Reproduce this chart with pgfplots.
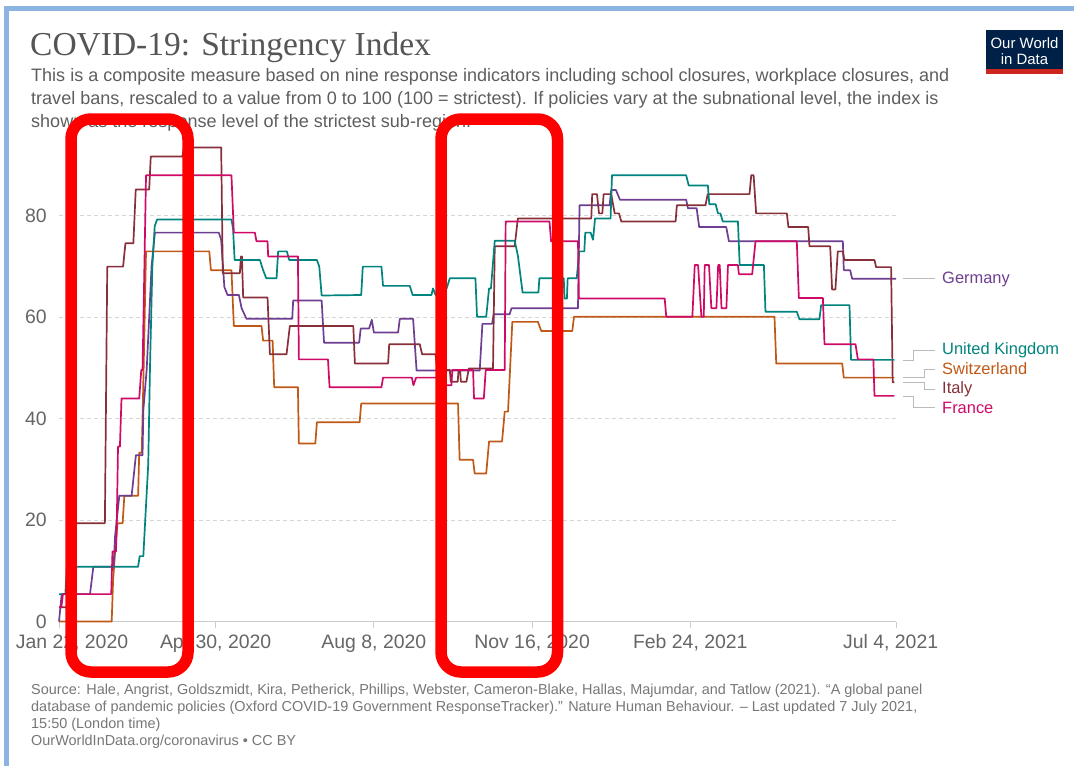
\documentclass[border=0pt]{standalone}
\usepackage{pgfplots}
\pgfplotsset{compat=1.18}
\usepackage{fontspec}
\setmainfont{Liberation Sans}
\newfontfamily\titlefont{Liberation Serif}
\definecolor{cGer}{HTML}{6D3E91}
\definecolor{cUK}{HTML}{00847E}
\definecolor{cSwi}{HTML}{C05917}
\definecolor{cIta}{HTML}{883039}
\definecolor{cFra}{HTML}{CF0A66}
\definecolor{cTitle}{HTML}{555555}
\definecolor{cSub}{HTML}{5E5E5E}
\definecolor{cTick}{HTML}{666666}
\definecolor{cFoot}{HTML}{777777}
\definecolor{cGrid}{HTML}{D6D6D6}
\definecolor{cAxis}{HTML}{CCCCCC}
\definecolor{cBorder}{HTML}{8DB3E2}
\definecolor{cLogo}{HTML}{002147}
\definecolor{cLogoRed}{HTML}{CE261E}
\definecolor{cConn}{HTML}{BBBBBB}
\begin{document}
\begin{tikzpicture}
\path[fill=white,use as bounding box] (0,0) rectangle (1074bp,-766bp);
% border
\fill[cBorder] (4bp,-6bp) rectangle (1074bp,-11bp);
\fill[cBorder] (4bp,-6bp) rectangle (9.3bp,-766bp);
% title
\node[anchor=base west,inner sep=0,font=\titlefont\fontsize{33.6}{40}\selectfont,text=cTitle] at (30bp,-55bp) {COVID-19: Stringency Index};
\begin{scope}[every node/.style={anchor=base west,inner sep=0,font=\fontsize{18.1}{21}\selectfont,text=cSub}]
\node at (31bp,-81bp) {This is a composite measure based on nine response indicators including school closures, workplace closures, and};
\node at (31bp,-104bp) {travel bans, rescaled to a value from 0 to 100 (100 = strictest). If policies vary at the subnational level, the index is};
\node at (31bp,-127bp) {shown as the response level of the strictest sub-region.};
\end{scope}
% logo
\fill[cLogo] (986bp,-30bp) rectangle (1063bp,-69bp);
\fill[cLogoRed] (986bp,-69bp) rectangle (1063bp,-74bp);
\node[text=white,font=\fontsize{15}{17}\selectfont,inner sep=0] at (1024.5bp,-43bp) {Our World};
\node[text=white,font=\fontsize{15}{17}\selectfont,inner sep=0] at (1024.5bp,-59bp) {in Data};
% footer
\begin{scope}[every node/.style={anchor=base west,inner sep=0,font=\fontsize{14.5}{17}\selectfont,text=cFoot}]
\node at (31bp,-694bp) {Source: Hale, Angrist, Goldszmidt, Kira, Petherick, Phillips, Webster, Cameron-Blake, Hallas, Majumdar, and Tatlow (2021). “A global panel};
\node at (31bp,-711bp) {database of pandemic policies (Oxford COVID-19 Government ResponseTracker).” Nature Human Behaviour. – Last updated 7 July 2021,};
\node at (31bp,-728bp) {15:50 (London time)};
\node at (31bp,-745bp) {OurWorldInData.org/coronavirus • CC BY};
\end{scope}
\begin{axis}[
  at={(59bp,-621.5bp)}, anchor=south west,
  scale only axis, width=837bp, height=481.65bp,
  xmin=0, xmax=529, ymin=0, ymax=95,
  axis x line*=bottom,
  x axis line style={draw=cAxis,line width=1.5bp},
  y axis line style={draw=none},
  xtick={0,99,199,299,399,529}, xticklabels={},
  xtick style={draw=cAxis,line width=1bp},
  major tick length=6bp, tick align=outside,
  ytick={0,20,40,60,80},
  ytick style={draw=none},
  ymajorgrids,
  grid style={draw=cGrid,line width=0.9bp,dash pattern=on 4bp off 3bp},
  /pgf/number format/assume math mode=true,
  yticklabel style={font=\fontsize{19.5}{22}\selectfont,text=cTick,inner sep=0pt,xshift=-6bp},
  clip=false,
  every axis plot/.append style={line width=1.7bp,line join=round,mark=none},
]
% Switzerland
\addplot[cSwi] coordinates {(0,0)(33.3,0)(34.2,8.2)(35.5,13.8)(37,19.4)(40.2,19.4)(41.3,24.8)(50,24.8)(50.7,33.3)(52.3,33.3)(53.5,50)(55,73)(95,73)(96,69.3)(109,69.3)(110.5,58.3)(128,58.3)(129,55.4)(135,55.4)(136,46.2)(151,46.2)(151.6,35.1)(162,35.1)(163,39.3)(190,39.3)(191,43)(252.2,43)(253.2,31.9)(261.7,31.9)(262.7,29.2)(270,29.2)(271.8,35.5)(280,35.5)(281.7,41.4)(283.8,41.4)(286.5,59.1)(302.7,59.1)(304.8,57.3)(324.4,57.3)(325.5,60.1)(452.2,60.1)(453.3,50.9)(495,50.9)(496,48.1)(528,48.1)};
% Germany
\addplot[cGer] coordinates {(0,0)(1.7,5.4)(19.6,5.4)(21.7,10.8)(34.5,10.8)(35.4,16.7)(38.1,24.8)(45.9,24.8)(48.6,32.8)(52.8,32.8)(53.3,41.7)(55.4,49.6)(57,60)(58.5,70)(60.6,76.7)(101,76.7)(102.5,75.3)(104.5,66)(106.5,64.4)(113.7,64.4)(115.4,61.8)(118.5,59.7)(147.4,59.7)(148,63.3)(166,63.3)(167.5,55)(189.7,55)(190.7,57.8)(196,57.8)(197.7,59.5)(199,57)(214.3,57)(215.4,59.7)(223.8,59.7)(226,49.5)(265.9,49.5)(267.6,58.7)(273.7,58.7)(274.7,60.6)(284.8,60.6)(286,61.8)(328,61.8)(329,82.1)(348,82.1)(349,85.1)(352,85.1)(354.5,83.2)(396.4,83.2)(397.5,81.5)(403,81.5)(404.6,77.8)(421.7,77.8)(423.4,75)(495.4,75)(496,69.3)(500,69.3)(501.3,67.6)(529,67.6)};
% Italy
\addplot[cIta] coordinates {(0,2.8)(5,2.8)(6,19.4)(29,19.4)(30.5,70)(40.5,70)(42,74.6)(47,74.6)(48.5,85.2)(57,85.2)(58,91.7)(78,91.7)(79,93.5)(102.5,93.5)(103.5,68.7)(114.3,68.7)(115,72)(115.6,72)(116.4,63.9)(131.8,63.9)(133.3,52.7)(143.8,52.7)(145.9,58.3)(186,58.3)(187,50.9)(208,50.9)(208.7,54.7)(228,54.7)(229.5,52.7)(238,52.7)(239,49.6)(247,49.6)(247.6,47.3)(252,47.3)(252.5,49.6)(253.5,49.6)(254,47.3)(257.5,47.3)(259,49.9)(274.3,49.9)(275.4,74)(288,74)(290,79.5)(336.4,79.5)(337,84.3)(340,84.3)(341.3,80.5)(343.4,80.5)(344.2,84.3)(349,84.3)(351.2,80.5)(353.9,80.5)(355.4,78.9)(389.7,78.9)(390.5,82.1)(408.6,82.1)(410,84.3)(436.4,84.3)(437.5,88)(439,88)(440.6,80.5)(460,80.5)(461,77.8)(473.5,77.8)(474.3,74)(487.4,74)(488.6,65.5)(490.7,65.5)(492.2,73)(495.4,73)(496.4,71.3)(515.4,71.3)(516.4,69.9)(525.9,69.9)(526.9,47.2)(528,47.2)};
% United Kingdom
\addplot[cUK] coordinates {(0,5.4)(4,5.4)(5,10.8)(50,10.8)(51,12.9)(53.3,12.9)(54.5,20)(56.4,31)(57.5,50)(59,70)(60.5,78)(62,79.3)(109,79.3)(110,77.5)(111,71.3)(127,71.3)(129,69.3)(131,67.7)(137.5,67.7)(138.5,73)(144,73)(145.5,71.3)(163,71.3)(164.5,70)(166,64.3)(191,64.4)(192,70)(203.8,70)(204.8,66.2)(221.7,66.2)(223.5,64.4)(235.4,64.4)(236.4,65.7)(238,64.4)(242,64.4)(245,65.7)(247,67.7)(263.2,67.7)(264.2,60.1)(270,60.1)(271.8,65.7)(273,65.7)(275.4,75.1)(288,75.1)(290,72.2)(293,64.9)(303,64.9)(303.6,67.7)(319,67.7)(319.5,63.7)(321,63.7)(321.5,67.7)(327.2,67.7)(328.8,73)(332,73)(332.6,76.7)(336,76.7)(337.5,75.3)(338.8,79.5)(348.6,79.5)(349.5,88)(396.4,88)(398,86)(410.1,86)(411,82.3)(415,82.3)(416.5,80.5)(418,80.5)(419.5,78.9)(429.1,78.9)(430.2,70.3)(445.5,70.3)(446.5,61.1)(466.3,61.1)(468,59.6)(480.6,59.6)(481.7,62.4)(499.6,62.4)(500.6,51.6)(528,51.6)};
% France
\addplot[cFra] coordinates {(0,2.8)(1.5,2.8)(2.5,5.4)(33,5.4)(33.8,13.8)(36,13.8)(36.5,19)(37.3,34.5)(38.5,34.5)(39.5,44)(50.7,44)(52,49.6)(52.8,49.6)(55,88)(109,88)(110.5,76.7)(123.8,76.7)(124.8,75)(131.8,75)(132.2,72)(151,72)(151.6,51.7)(170,51.7)(171,46.2)(203.8,46.2)(204.8,48.1)(223,48.1)(224,46.6)(225.7,48.1)(244,48.1)(244.5,46.6)(248,46.6)(248.6,49.6)(261.7,49.6)(262.3,44)(268.5,44)(269.7,49.6)(281.7,49.6)(282.3,78.9)(310,78.9)(311,75)(328,75)(328.6,63.7)(382.8,63.7)(383.8,60.1)(400.3,60.1)(401.8,70.3)(403.9,70.3)(406,60.1)(407.5,60.1)(408.1,70.3)(410.8,70.3)(412.3,61.8)(415.5,61.8)(416.6,70.3)(417.6,70.3)(418.7,61.8)(421.8,61.8)(422.8,70.3)(429.1,70.3)(429.7,68.5)(438.1,68.5)(440.2,75)(466.3,75)(467.6,63.8)(482.8,63.8)(483.8,54.7)(503.4,54.7)(504.9,51.7)(514.7,51.7)(515.4,44.5)(528,44.5)};
% x tick labels
\begin{scope}[every node/.style={anchor=base,inner sep=0,font=\fontsize{19.5}{22}\selectfont,text=cTick,yshift=-26.5bp}]
\node at (axis cs:8.2,0) {Jan 22, 2020};
\node at (axis cs:99,0) {Apr 30, 2020};
\node at (axis cs:199,0) {Aug 8, 2020};
\node at (axis cs:299,0) {Nov 16, 2020};
\node at (axis cs:399,0) {Feb 24, 2021};
\node at (axis cs:525.6,0) {Jul 4, 2021};
\end{scope}
\end{axis}
% legend connectors
\begin{scope}[draw=cConn,line width=1bp]
\draw (903bp,-278.5bp) -- (935bp,-278.5bp);
\draw (903bp,-360.7bp) -- (913bp,-360.7bp) -- (913bp,-350bp) -- (935bp,-350bp);
\draw (903bp,-377bp) -- (924bp,-377bp) -- (924bp,-369bp) -- (935bp,-369bp);
\draw (903bp,-382.5bp) -- (924bp,-382.5bp) -- (924bp,-389bp) -- (935bp,-389bp);
\draw (903bp,-396bp) -- (913bp,-396bp) -- (913bp,-407.7bp) -- (935bp,-407.7bp);
\end{scope}
\begin{scope}[every node/.style={anchor=west,inner sep=0,font=\fontsize{16.5}{19}\selectfont}]
\node[text=cGer] at (942bp,-279bp) {Germany};
\node[text=cUK] at (942bp,-350bp) {United Kingdom};
\node[text=cSwi] at (942bp,-369bp) {Switzerland};
\node[text=cIta] at (942bp,-389bp) {Italy};
\node[text=cFra] at (942bp,-408bp) {France};
\end{scope}
% red highlight boxes
\draw[red,line width=11.5bp,rounded corners=20bp] (71bp,-119bp) rectangle (188bp,-672bp);
\draw[red,line width=11.5bp,rounded corners=20bp] (441bp,-119bp) rectangle (557.5bp,-672bp);
\end{tikzpicture}
\end{document}
